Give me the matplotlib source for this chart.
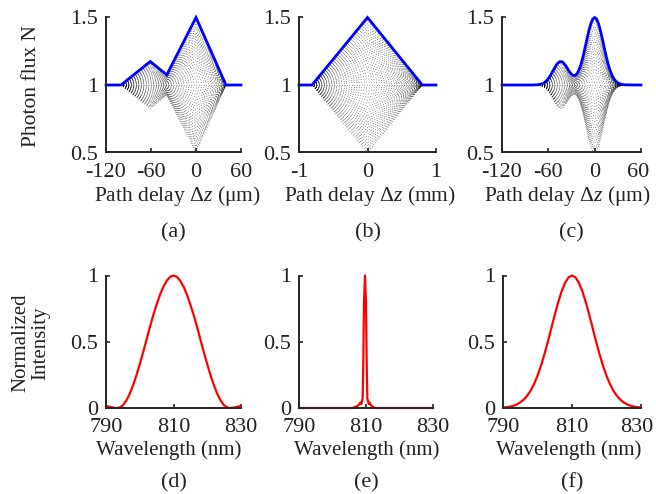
import numpy as np
import matplotlib
matplotlib.use("Agg")
import matplotlib.pyplot as plt
from matplotlib.transforms import ScaledTranslation

plt.rcParams['font.family'] = ['Liberation Serif', 'DejaVu Serif']
plt.rcParams['mathtext.fontset'] = 'custom'
plt.rcParams['mathtext.rm'] = 'Liberation Serif'
plt.rcParams['mathtext.it'] = 'Liberation Serif:italic'
FS = 16

# ---------------- data ----------------
# (a) upper envelope of photon flux, piecewise linear (um)
a_z = [-120, -100, -61, -39, 0, 40, 60]
a_upper = [1.0, 1.0, 1.174, 1.075, 1.5, 1.0, 1.0]

# (b) upper envelope (mm)
b_z = [-1.0, -0.81, 0.0, 0.80, 1.0]
b_upper = [1.0, 1.0, 1.5, 1.0, 1.0]

# (c) upper envelope, smooth (um)
c_z = [-120, -80, -77.5, -75, -72.5, -70, -67.5, -65, -62.5, -60, -57.5, -55,
       -52.5, -50, -47.5, -45, -42.5, -40, -37.5, -35, -32.5, -30, -27.5, -25,
       -22.5, -20, -17.5, -15, -12.5, -10, -7.5, -5, -2.5, 0, 2.5, 5, 7.5, 10,
       12.5, 15, 17.5, 20, 22.5, 25, 27.5, 30, 32.5, 35, 37.5, 40, 60]
c_upper = [1.0, 1.000, 1.001, 1.001, 1.003, 1.006, 1.010, 1.018, 1.030, 1.047,
           1.069, 1.094, 1.120, 1.145, 1.163, 1.173, 1.173, 1.161, 1.143, 1.120,
           1.097, 1.080, 1.070, 1.072, 1.087, 1.116, 1.158, 1.212, 1.275, 1.340,
           1.403, 1.454, 1.488, 1.500, 1.488, 1.454, 1.402, 1.340, 1.274, 1.210,
           1.154, 1.107, 1.071, 1.045, 1.027, 1.016, 1.0085, 1.0044, 1.0022,
           1.001, 1.0]

# (d) spectrum
d_wl = [790, 791, 792, 793, 794, 795, 796, 797, 798, 799, 800, 801, 802, 803,
        804, 805, 806, 807, 808, 809, 810, 811, 812, 813, 814, 815, 816, 817,
        818, 819, 820, 821, 822, 823, 824, 825, 826, 827, 828, 829, 830]
d_int = [0.015, 0.010, 0.004, 0.0, 0.003, 0.02, 0.055, 0.105, 0.17, 0.245,
         0.33, 0.42, 0.515, 0.61, 0.70, 0.78, 0.855, 0.915, 0.96, 0.99, 1.0,
         0.99, 0.96, 0.915, 0.855, 0.78, 0.70, 0.61, 0.515, 0.42, 0.33, 0.245,
         0.17, 0.105, 0.055, 0.02, 0.003, 0.0, 0.004, 0.010, 0.015]

# (e) spectrum (narrow)
e_wl = [790, 806.0, 806.8, 807.4, 807.9, 808.3, 808.6, 808.8, 809.0, 809.2,
        809.4, 809.7, 810.0, 810.2, 810.4, 810.6, 810.8, 811.1, 811.5, 812.0,
        812.6, 830]
e_int = [0.0, 0.0, 0.008, 0.015, 0.025, 0.04, 0.03, 0.055, 0.07, 0.35,
         0.8, 1.0, 0.8, 0.35, 0.07, 0.055, 0.03, 0.04, 0.02, 0.01,
         0.0, 0.0]

# (f) spectrum
f_wl = d_wl
f_int = [0.004, 0.006, 0.010, 0.017, 0.027, 0.042, 0.063, 0.092, 0.131, 0.181,
         0.243, 0.318, 0.405, 0.500, 0.602, 0.703, 0.798, 0.881, 0.945, 0.986,
         1.0, 0.986, 0.945, 0.881, 0.798, 0.703, 0.602, 0.500, 0.405, 0.318,
         0.243, 0.181, 0.131, 0.092, 0.063, 0.042, 0.027, 0.017, 0.010, 0.006,
         0.004]

# fractions of the envelope used to draw the dotted interference traces
n_traces = 45
fractions = np.linspace(-1, 1, n_traces)

# ---------------- figure ----------------
W, H = 656, 494
fig = plt.figure(figsize=(W / 100, H / 100), dpi=100)
TXT = '#222222'

def box(x0, x1, y0, y1):
    return [x0 / W, 1 - y1 / H, (x1 - x0) / W, (y1 - y0) / H]

SPC = '#262626'

def style(ax):
    for s in ['top', 'right']:
        ax.spines[s].set_visible(False)
    for s in ['left', 'bottom']:
        ax.spines[s].set_linewidth(1.4)
        ax.spines[s].set_color(SPC)
    ax.tick_params(direction='in', length=3, width=1.2, color=SPC,
                   labelsize=FS, labelcolor=TXT)
    ax.tick_params(axis='x', pad=7.5)
    ax.tick_params(axis='y', pad=5.5)

def nudge_last_xlabel(ax, dx_px):
    lab = ax.get_xticklabels()[-1]
    lab.set_transform(lab.get_transform() +
                      ScaledTranslation(dx_px / 100, 0, fig.dpi_scale_trans))

top_boxes = [box(106, 241, 17.5, 152.5), box(299, 436, 17.5, 152.5),
             box(502, 641, 17.5, 152.5)]
bot_boxes = [box(106, 241, 275.5, 408), box(299, 433, 275.5, 408),
             box(503, 641, 275.5, 408)]
top_label_x = [177, 370, 567]
bot_label_x = [169, 367, 569]

top_data = [(a_z, a_upper, (-120, 60), [-120, -60, 0, 60], ['-120', '-60', '0', '60'],
             r'Path delay $\mathrm{\Delta}z$ ($\mathrm{\mu}$m)'),
            (b_z, b_upper, (-1, 1), [-1, 0, 1], ['-1', '0', '1'],
             r'Path delay $\mathrm{\Delta}z$ (mm)'),
            (c_z, c_upper, (-120, 60), [-120, -60, 0, 60], ['-120', '-60', '0', '60'],
             r'Path delay $\mathrm{\Delta}z$ ($\mathrm{\mu}$m)')]

for i, (z, up, xl, xt, xtl, lab) in enumerate(top_data):
    ax = fig.add_axes(top_boxes[i])
    style(ax)
    z = np.asarray(z)
    up = np.asarray(up)
    for f in fractions:
        ax.plot(z, 1 + f * (up - 1), color='k', lw=0.45,
                linestyle=(0, (1, 3)), clip_on=False)
    ax.plot(z, up, color='#0000ff', lw=2.0, clip_on=False, solid_joinstyle='miter')
    ax.set_xlim(*xl)
    ax.set_ylim(0.5, 1.5)
    ax.set_xticks(xt)
    ax.set_xticklabels(xtl)
    ax.set_yticks([0.5, 1, 1.5])
    ax.set_yticklabels(['0.5', '1', '1.5'])
    if i == 2:
        nudge_last_xlabel(ax, -3)
    fig.text(top_label_x[i] / W, 1 - 196 / H, lab, ha='center', va='center',
             fontsize=15.5, color=TXT)
    fig.text(top_boxes[i][0] + top_boxes[i][2] / 2, 1 - 233 / H,
             '(' + 'abc'[i] + ')', ha='center', va='center', fontsize=FS,
             color=TXT)

bot_data = [(d_wl, d_int), (e_wl, e_int), (f_wl, f_int)]
for i, (wl, inten) in enumerate(bot_data):
    ax = fig.add_axes(bot_boxes[i])
    style(ax)
    ax.plot(wl, inten, color='#ff0000', lw=1.6, clip_on=False)
    ax.set_xlim(790, 830)
    ax.set_ylim(0, 1)
    ax.set_xticks([790, 810, 830])
    ax.set_xticklabels(['790', '810', '830'])
    ax.set_yticks([0, 0.5, 1])
    ax.set_yticklabels(['0', '0.5', '1'])
    if i == 2:
        nudge_last_xlabel(ax, -4)
    fig.text(bot_label_x[i] / W, 1 - 450 / H, 'Wavelength (nm)', ha='center',
             va='center', fontsize=15, color=TXT)
    fig.text(bot_boxes[i][0] + bot_boxes[i][2] / 2, 1 - 483 / H,
             '(' + 'def'[i] + ')', ha='center', va='center', fontsize=FS,
             color=TXT)

fig.text(32 / W, 1 - 86 / H, 'Photon flux N', rotation=90, ha='center',
         va='center', fontsize=15.5, color=TXT)
fig.text(31 / W, 1 - 343 / H, 'Normalized\nIntensity', rotation=90,
         ha='center', va='center', fontsize=15, color=TXT,
         multialignment='center', linespacing=1.05)

fig.savefig('out.png', dpi=100)
